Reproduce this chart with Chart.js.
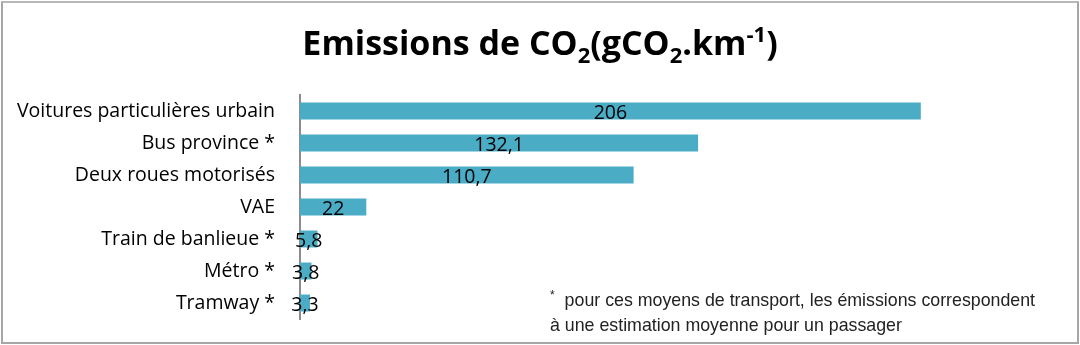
<!DOCTYPE html>
<html lang="fr">
<head>
<meta charset="utf-8">
<script src="https://cdn.jsdelivr.net/npm/chart.js@4.4.1/dist/chart.umd.min.js"></script>
<style>
  html, body { margin: 0; padding: 0; background: #fff; }
  #wrap { position: relative; width: 1080px; height: 345px; overflow: hidden; }
  #frame {
    position: absolute; left: 1px; top: 1px; width: 1074px; height: 339px;
    border: 2px solid #a6a6a6; border-top-color: #b8b8b8; pointer-events: none;
  }
  #chartBox { position: absolute; left: 0; top: 0; width: 1080px; height: 345px; }
  #title {
    position: absolute; left: 0; top: 22px; width: 1080px; text-align: center;
    font-family: "Open Sans", Lato, sans-serif; font-weight: bold; font-size: 34px;
    color: #000; line-height: 40px;
  }
  #title sub { font-size: 22px; vertical-align: -8px; line-height: 0; }
  #title sup { font-size: 22px; vertical-align: 13px; line-height: 0; }
  #note {
    position: absolute; left: 550px; top: 288px;
    font-family: "Liberation Sans", Arial, sans-serif; font-size: 17.8px; color: #222;
    line-height: 25px;
  }
  #note .star { font-size: 12px; vertical-align: 7px; line-height: 0; margin-right: 5px; }
</style>
</head>
<body>
<div id="wrap">
  <div id="chartBox"><canvas id="chart" width="1080" height="345"></canvas></div>
  <div id="title">Emissions de CO<sub>2</sub>(gCO<sub>2</sub>.km<sup>-1</sup>)</div>
  <div id="note"><span class="star">*</span> pour ces moyens de transport, les émissions correspondent<br>à une estimation moyenne pour un passager</div>
  <div id="frame"></div>
</div>
<script>
// --- données ---
const categories = [
  'Voitures particulières urbain',
  'Bus province *',
  'Deux roues motorisés',
  'VAE',
  'Train de banlieue *',
  'Métro *',
  'Tramway *'
];
const emissions = [206, 132.1, 110.7, 22, 5.8, 3.8, 3.3];

const BAR_COLOR = '#4bacc6';
const FONT_FAMILY = '"Open Sans", Lato, sans-serif';
const FONT_SIZE = 19.5;

// valeurs au centre des barres (format français)
const centerLabels = {
  id: 'centerLabels',
  afterDatasetsDraw(chart) {
    const ctx = chart.ctx;
    const meta = chart.getDatasetMeta(0);
    ctx.save();
    ctx.font = FONT_SIZE + 'px ' + FONT_FAMILY;
    ctx.fillStyle = '#000';
    ctx.textAlign = 'center';
    ctx.textBaseline = 'middle';
    meta.data.forEach((bar, i) => {
      const x = (bar.x + bar.base) / 2;
      const txt = String(emissions[i]).replace('.', ',');
      ctx.fillText(txt, x, bar.y + 2);
    });
    ctx.restore();
  }
};

document.addEventListener('DOMContentLoaded', () => {
  const ctx = document.getElementById('chart').getContext('2d');
  new Chart(ctx, {
    type: 'bar',
    data: {
      labels: categories,
      datasets: [{
        data: emissions,
        backgroundColor: BAR_COLOR,
        borderWidth: 0,
        barPercentage: 0.53,
        categoryPercentage: 1.0
      }]
    },
    options: {
      indexAxis: 'y',
      responsive: false,
      animation: false,
      layout: { padding: { top: 95, bottom: 26, left: 0, right: 117 } },
      scales: {
        x: {
          display: false,
          min: 0,
          max: 220
        },
        y: {
          grid: { display: false, drawTicks: false },
          border: { display: true, color: '#8c8c8c', width: 2 },
          ticks: {
            color: '#000',
            font: { family: FONT_FAMILY, size: FONT_SIZE },
            padding: 25
          },
          afterFit(scale) {
            scale.width = 300;
            scale.paddingTop = 0;
            scale.paddingBottom = 0;
          }
        }
      },
      plugins: {
        legend: { display: false },
        tooltip: { enabled: false }
      }
    },
    plugins: [centerLabels]
  });
});
</script>
</body>
</html>
